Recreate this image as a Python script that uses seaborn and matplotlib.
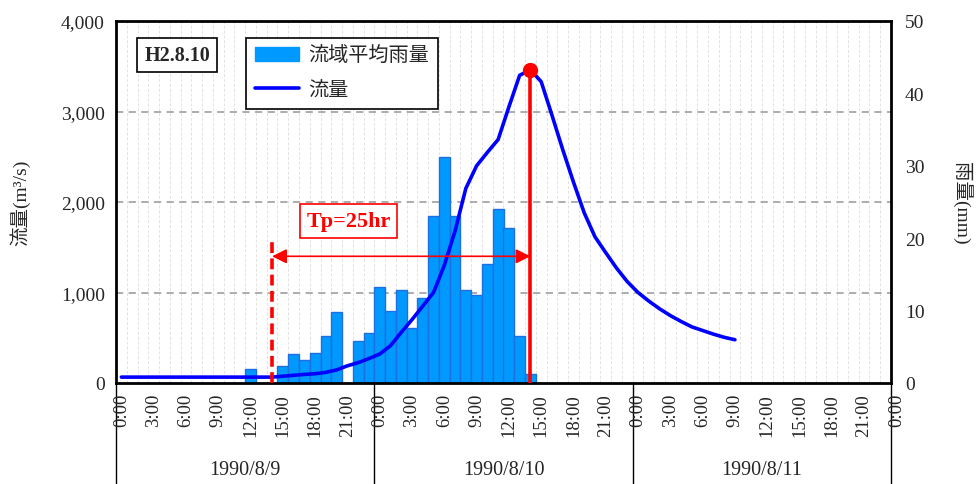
import numpy as np
import pandas as pd
import matplotlib
matplotlib.use("Agg")
import matplotlib.pyplot as plt
from matplotlib.ticker import FuncFormatter, MultipleLocator
import matplotlib.transforms as mtransforms
from matplotlib.patches import Patch
from matplotlib.lines import Line2D
import seaborn as sns

# ---------------- data ----------------
flow_hours = list(range(0, 58))
flow_values = [65] * 14 + [
    65, 75, 85, 95, 102, 118, 145, 190, 225, 270,
    320, 412, 560, 700, 850, 1000, 1300, 1680, 2150, 2400,
    2548, 2690, 3050, 3400, 3460, 3330, 2960, 2580, 2220, 1880,
    1615, 1440, 1270, 1120, 1000, 905, 820, 745, 680, 620,
    580, 540, 505, 478]

rain_hours = list(range(0, 39))
rain_values = [0] * 12 + [
    2.0, 0, 0, 2.3, 4.0, 3.2, 4.2, 6.5, 9.8, 0,
    5.8, 6.9, 13.3, 9.9, 12.8, 7.6, 11.7, 23.0, 31.2, 23.0,
    12.8, 12.2, 16.4, 24.1, 21.4, 6.5, 1.3]

time_tick_hours = list(range(0, 73, 3))
time_tick_labels = [f"{h % 24}:00" for h in time_tick_hours]
day_bounds = [0, 24, 48, 72]
day_labels = ["1990/8/9", "1990/8/10", "1990/8/11"]

start_hour = 14       # rise start (dashed line)
peak_hour = 38        # peak flow hour
start_line_top = 1600
arrow_level = 1400
tp_label = "Tp=25hr"
event_label = "H2.8.10"

# --------------- style ---------------
sns.set_theme(style="white")
FONT = ["Liberation Serif", "Noto Sans CJK JP", "DejaVu Sans"]
plt.rcParams["font.family"] = FONT

W, H = 977, 485
fig = plt.figure(figsize=(W / 100, H / 100), dpi=100)
L, R, B, T = 116, 891, 384, 22
pos = [L / W, 1 - B / H, (R - L) / W, (B - T) / H]

# background grid axes
gax = fig.add_axes(pos, zorder=0)
gax.set_xlim(0, 72)
gax.set_ylim(0, 4000)
for h in range(1, 72):
    gax.axvline(h, color="#E2E2E2", lw=0.7, ls=(0, (3, 2)), zorder=0)
for v in [1000, 2000, 3000]:
    gax.axhline(v, color="#A6A6A6", lw=1.3, ls=(0, (4, 3)), zorder=0)
gax.set_xticks([]); gax.set_yticks([])
for s in gax.spines.values():
    s.set_visible(False)

# rain bars axes (right axis)
ax2 = fig.add_axes(pos, zorder=1)
ax2.patch.set_visible(False)
rain_df = pd.DataFrame({"pos": np.array(rain_hours) + 0.5, "rain": rain_values})
sns.barplot(data=rain_df, x="pos", y="rain", native_scale=True, width=1,
            color="#0099FF", edgecolor="#1F6FE0", linewidth=1.0,
            saturation=1, errorbar=None, ax=ax2)
ax2.set_xlim(0, 72)
ax2.set_ylim(0, 50)
ax2.yaxis.tick_right()
ax2.yaxis.set_label_position("right")
ax2.yaxis.set_major_locator(MultipleLocator(10))
ax2.set_xticks([])
ax2.set_xlabel("")
ax2.set_ylabel("雨量(mm)", rotation=270, fontsize=14, labelpad=34, family=FONT)
ax2.tick_params(axis="y", labelsize=14, length=0, pad=10)
for s in ax2.spines.values():
    s.set_visible(False)

# flow line axes (left axis)
ax = fig.add_axes(pos, zorder=2)
ax.patch.set_visible(False)
flow_df = pd.DataFrame({"pos": np.array(flow_hours) + 0.5, "flow": flow_values})
sns.lineplot(data=flow_df, x="pos", y="flow", color="#0000FF", lw=2.6, ax=ax)
ax.set_xlim(0, 72)
ax.set_ylim(0, 4000)
ax.yaxis.set_major_locator(MultipleLocator(1000))
ax.yaxis.set_major_formatter(FuncFormatter(lambda v, _: f"{int(v):,}"))
ax.tick_params(axis="y", labelsize=14, length=0, pad=8)
ax.set_xticks([])
ax.set_xlabel("")
ax.set_ylabel("流量(m³/s)", fontsize=14, labelpad=22, family=FONT)
for s in ax.spines.values():
    s.set_visible(True)
    s.set_color("black")
    s.set_linewidth(2.0)

# peak marker & lines
peak_x = peak_hour + 0.5
peak_y = flow_values[peak_hour]
ax.plot([peak_x, peak_x], [0, peak_y], color="red", lw=2.6, zorder=5)
ax.plot([peak_x], [peak_y], "o", color="red", ms=10, zorder=6)
start_x = start_hour + 0.5
ax.plot([start_x, start_x], [0, start_line_top], color="red", lw=2.6,
        ls=(0, (3, 1.5)), zorder=5)
ax.annotate("", xy=(peak_x, arrow_level), xytext=(start_x, arrow_level),
            arrowprops=dict(arrowstyle="<|-|>", color="red", lw=1.2,
                            mutation_scale=22, shrinkA=0, shrinkB=0), zorder=5)
ax.text((start_x + peak_x) / 2 - 4.9, 1790, tp_label, color="red", fontsize=16,
        fontweight="bold", ha="center", va="center", family=FONT,
        bbox=dict(boxstyle="square,pad=0.3", fc="white", ec="red", lw=1.2), zorder=7)

# event label
ax.text(0.079, 0.907, event_label, transform=ax.transAxes, fontsize=14.5,
        fontweight="bold", ha="center", va="center", family=FONT,
        bbox=dict(boxstyle="square,pad=0.35", fc="white", ec="black", lw=1.2), zorder=7)

# legend
handles = [Patch(facecolor="#0099FF", edgecolor="#0099FF"),
           Line2D([0], [0], color="#0000FF", lw=2.6)]
leg = fig.legend(handles, ["流域平均雨量", "流量"], loc="upper left",
                 bbox_to_anchor=(246 / W, 1 - 39 / H), borderaxespad=0,
                 fancybox=False, framealpha=1, edgecolor="black",
                 prop={"size": 14.5, "family": FONT}, handlelength=2.2,
                 labelspacing=0.75, borderpad=0.45, handletextpad=0.45)
leg.get_frame().set_linewidth(1.2)
leg.set_zorder(10)

# category axis labels
trans = mtransforms.blended_transform_factory(ax.transData, ax.transAxes)
axh = B - T
for h, lab in zip(time_tick_hours, time_tick_labels):
    ax.text(h + 0.5, -(394 - B) / axh, lab, transform=trans, rotation=90,
            ha="center", va="top", fontsize=13.5, family=FONT, clip_on=False)
for d in day_bounds:
    ax.plot([d, d], [0, -(H - B) / axh], transform=trans, color="black",
            lw=1.0, clip_on=False)
for i, lab in enumerate(day_labels):
    ax.text((day_bounds[i] + day_bounds[i + 1]) / 2, -(471 - B) / axh, lab,
            transform=trans, ha="center", va="center", fontsize=14.5,
            family=FONT, clip_on=False)

fig.savefig("out.png", dpi=100)
